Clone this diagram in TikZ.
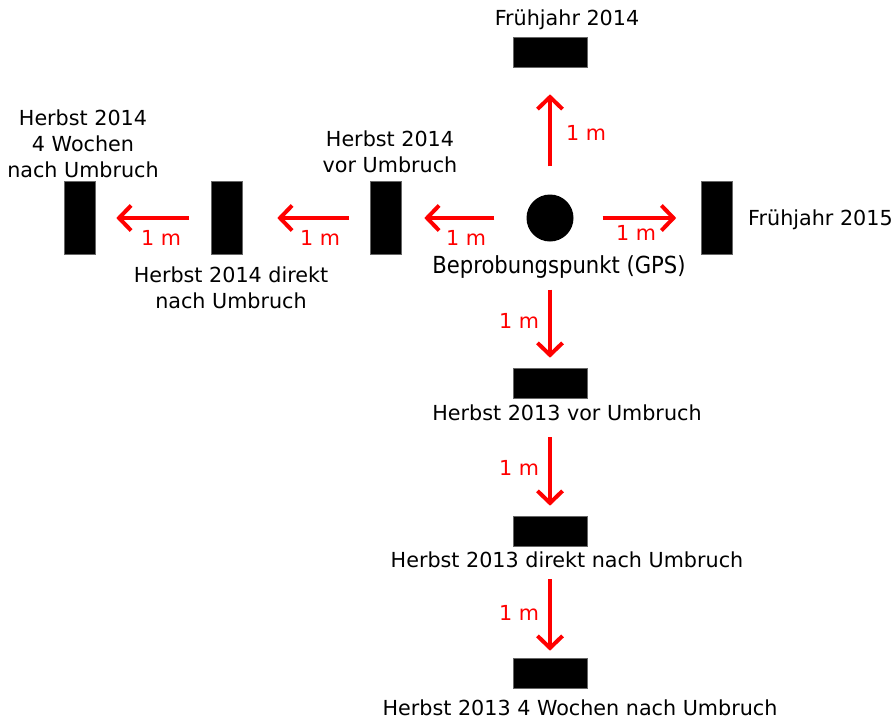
\documentclass[tikz,border=0pt]{standalone}
\usepackage{fontspec}
\setmainfont{DejaVu Sans}
\newfontfamily\condfont{DejaVu Sans Condensed}
\usepackage{tikz}
\usetikzlibrary{arrows.meta}

\tikzset{
  probe/.style={rectangle, fill=black, draw=black!60, line width=0.6pt, inner sep=0pt},
  flat/.style={probe, minimum width=74pt, minimum height=30pt},
  tall/.style={probe, minimum width=31pt, minimum height=73pt},
  pfeil/.style={red, line width=4pt, -{Straight Barb[length=12pt,width=25pt]}},
  txt/.style={font=\fontsize{20.7}{26}\selectfont, align=center, inner sep=0pt},
  dist/.style={txt, red}
}

\begin{document}
\begin{tikzpicture}[x=1pt, y=-1pt]
\useasboundingbox (0,0) rectangle (893,720);

% Beprobungspunkt
\node[circle, fill=black, minimum size=47pt, inner sep=0pt] (gps) at (550,218) {};
\node[txt, font=\condfont\fontsize{23.5}{26}\selectfont] (gpslabel) at (559,267) {Beprobungspunkt (GPS)};

% Fruehjahr
\node[flat] (f14) at (550,52) {};
\node[txt] (f14label) at (567,20) {Frühjahr 2014};
\node[tall] (f15) at (717,218) {};
\node[txt, anchor=west] (f15label) at (748,220) {Frühjahr 2015};

% Herbst 2014
\node[tall] (vor14) at (385.5,218) {};
\node[txt] (vor14label) at (390,152) {Herbst 2014\\vor Umbruch};
\node[tall] (dir14) at (226.5,218) {};
\node[txt] (dir14label) at (231,288) {Herbst 2014 direkt\\nach Umbruch};
\node[tall] (woch14) at (79.5,218) {};
\node[txt] (woch14label) at (83,144) {Herbst 2014\\4 Wochen\\nach Umbruch};

% Herbst 2013
\node[flat] (vor13) at (550,383) {};
\node[txt] (vor13label) at (567,413) {Herbst 2013 vor Umbruch};
\node[flat] (dir13) at (550,531) {};
\node[txt] (dir13label) at (567,560) {Herbst 2013 direkt nach Umbruch};
\node[flat] (woch13) at (550,673) {};
\node[txt] (woch13label) at (580,708) {Herbst 2013 4 Wochen nach Umbruch};

% Pfeile
\draw[pfeil, shorten <=28pt, shorten >=27pt] (gps) -- (f14);
\draw[pfeil, shorten <=29pt, shorten >=25pt] (gps) -- (f15);
\draw[pfeil, shorten <=32pt, shorten >=23pt] (gps) -- (vor14);
\draw[pfeil, shorten <=21pt, shorten >=35pt] (vor14) -- (dir14);
\draw[pfeil, shorten <=22pt, shorten >=21pt] (dir14) -- (woch14);
\draw[pfeil, shorten <=48pt, shorten >=10pt] (gps) -- (vor13);
\draw[pfeil, shorten <=39pt, shorten >=10pt] (vor13) -- (dir13);
\draw[pfeil, shorten <=33pt, shorten >=7pt] (dir13) -- (woch13);

% Abstaende
\node[dist] (m1) at (586,133) {1 m};
\node[dist] (m2) at (636,233) {1 m};
\node[dist] (m3) at (466,238) {1 m};
\node[dist] (m4) at (320,238) {1 m};
\node[dist] (m5) at (161,238) {1 m};
\node[dist] (m6) at (519,321) {1 m};
\node[dist] (m7) at (519,468) {1 m};
\node[dist] (m8) at (519,613) {1 m};

\end{tikzpicture}
\end{document}
